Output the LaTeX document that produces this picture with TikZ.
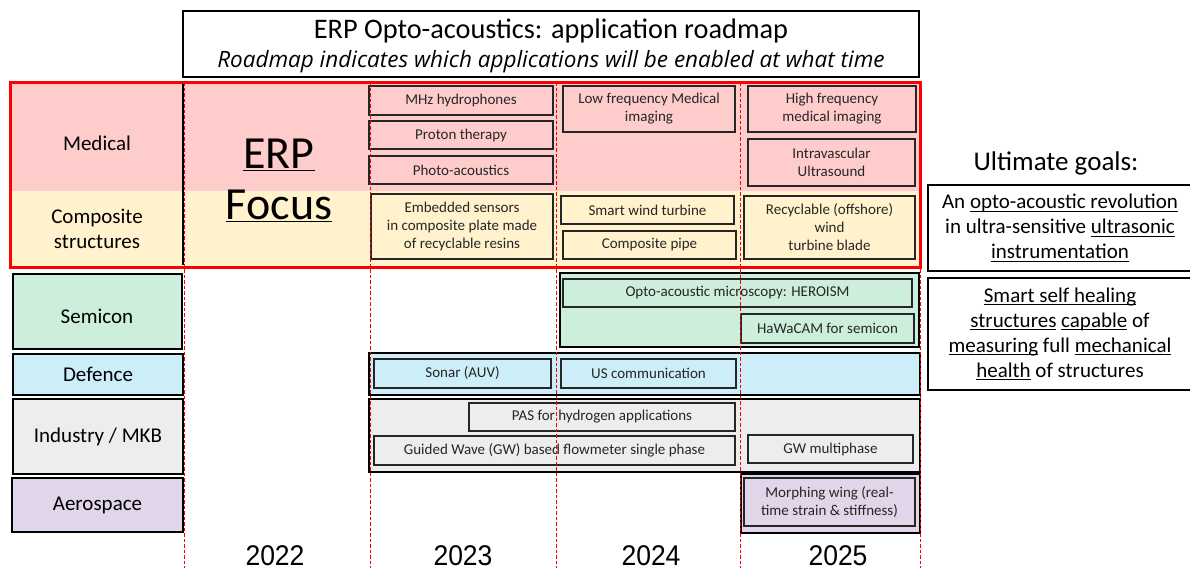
\documentclass[tikz,border=0pt]{standalone}
\usepackage{fontspec}
\setmainfont{Carlito}
\newfontfamily\subfont{Open Sans}
\newfontfamily\yearfont[FakeStretch=0.93]{Liberation Sans}
\definecolor{pk}{HTML}{FFCCCC}
\definecolor{yl}{HTML}{FFF2CC}
\definecolor{gr}{HTML}{CCEEDB}
\definecolor{bl}{HTML}{CCEEF9}
\definecolor{gy}{HTML}{EDEDED}
\definecolor{pu}{HTML}{E1D5E9}
\definecolor{tx}{HTML}{262626}
\newcommand\myul[1]{\leavevmode\setbox0\hbox{#1}\rlap{\rule[-3pt]{\wd0}{1pt}}\box0\relax}
\tikzset{
  ibox/.style={draw=black!85, line width=1.5pt, inner sep=0pt, align=center, text=tx,
    font=\fontsize{15}{18}\selectfont},
  gbox/.style={draw=black, line width=2pt, inner sep=0pt},
  lbox/.style={draw=black, line width=2pt, inner sep=0pt, align=center, text=black,
    font=\fontsize{21}{25}\selectfont},
  lbl/.style={align=center, font=\fontsize{21}{25}\selectfont},
  year/.style={inner sep=0pt, font=\yearfont\fontsize{28.5}{30}\selectfont},
  grid/.style={red, line width=1.1pt, dash pattern=on 3.5pt off 2pt},
  goal/.style={draw=black, line width=2pt, inner sep=0pt},
  goaltxt/.style={align=center, font=\fontsize{21}{25}\selectfont},
}
% #1 style, #2 name, #3 x1, #4 y1, #5 x2, #6 y2, #7 text
\newcommand\rbox[7]{%
  \pgfmathsetmacro\rbw{#5-#3}\pgfmathsetmacro\rbh{#6-#4}%
  \pgfmathsetmacro\rbx{(#3+#5)/2}\pgfmathsetmacro\rby{(#4+#6)/2}%
  \node[#1, minimum width=\rbw pt, minimum height=\rbh pt] (#2) at (\rbx,\rby) {#7};}
\begin{document}
\begin{tikzpicture}[x=1pt,y=-1pt]
\useasboundingbox (0,0) rectangle (1190,568);
% title
\rbox{goal}{titlebox}{183}{11}{919}{77}{}
\node[font=\fontsize{28.3}{30}\selectfont] (title) at (551,31) {ERP Opto-acoustics: application roadmap};
\node[font=\subfont\itshape\fontsize{22.5}{24}\selectfont] (subtitle) at (551,62) {Roadmap indicates which applications will be enabled at what time};
% focus bands
\fill[pk] (11,83) rectangle (919,191);
\fill[yl] (11,191) rectangle (919,266);
\draw[black, line width=1.5pt] (183,84) -- (183,265);
\node[lbl] (medical) at (97,143) {Medical};
\node[lbl] (composite) at (97,229) {Composite\\structures};
\node[font=\fontsize{46}{50}\selectfont] (erp) at (279,155) {\underline{ERP}};
\node[font=\fontsize{46}{50}\selectfont] (focus) at (279,206) {\underline{Focus}};
% medical boxes
\rbox{ibox, fill=pk}{mhz}{369}{86}{553}{115}{MHz hydrophones}
\rbox{ibox, fill=pk}{proton}{369}{121}{553}{149}{Proton therapy}
\rbox{ibox, fill=pk}{photo}{369}{156}{553}{184}{Photo-acoustics}
\rbox{ibox, fill=pk}{lowfreq}{563}{86}{735}{132}{Low frequency Medical\\imaging}
\rbox{ibox, fill=pk}{highfreq}{748}{86}{916}{132}{High frequency\\medical imaging}
\rbox{ibox, fill=pk}{intra}{748}{139}{915}{186}{Intravascular\\Ultrasound}
% composite boxes
\rbox{ibox, fill=yl}{embedded}{371}{194}{553}{259}{Embedded sensors\\in composite plate made\\of recyclable resins}
\rbox{ibox, fill=yl}{smartwind}{561}{196}{734}{224}{Smart wind turbine}
\rbox{ibox, fill=yl}{pipe}{563}{231}{736}{259}{Composite pipe}
\rbox{ibox, fill=yl}{recyc}{744}{196}{915}{259}{Recyclable (offshore)\\wind\\turbine blade}
\draw[red, line width=3pt] (10,82) rectangle (920,267);
% label boxes
\rbox{lbox, fill=gr}{semicon}{13}{274}{182}{349}{}
\node[lbl] (semicont) at (97,316) {Semicon};
\rbox{lbox, fill=bl}{defence}{13}{354}{183}{395}{Defence}
\rbox{lbox, fill=gy}{industry}{13}{399}{183}{474}{Industry / MKB}
\rbox{lbox, fill=pu}{aero}{12}{478}{183}{532}{Aerospace}
% group boxes
\rbox{gbox, fill=gr}{gsemi}{560}{273}{919}{347}{}
\rbox{gbox, fill=bl}{gdef}{369}{353}{920}{395}{}
\rbox{gbox, fill=gy}{gind}{369}{399}{920}{472}{}
\rbox{gbox, fill=pu}{gaero}{741}{474}{920}{533}{}
% inner boxes
\rbox{ibox, fill=gr}{heroism}{563}{279}{912}{307}{Opto-acoustic microscopy: HEROISM}
\rbox{ibox, fill=gr}{hawacam}{741}{314}{914}{343}{HaWaCAM for semicon}
\rbox{ibox, fill=bl}{sonar}{374}{359}{551}{388}{Sonar (AUV)}
\rbox{ibox, fill=bl}{uscomm}{561}{359}{736}{388}{US communication}
\rbox{ibox, fill=gy}{pas}{469}{403}{735}{431}{PAS for hydrogen applications}
\rbox{ibox, fill=gy}{gwsingle}{374}{436}{735}{465}{Guided Wave (GW) based flowmeter single phase}
\rbox{ibox, fill=gy}{gwmulti}{748}{435}{913}{463}{GW multiphase}
\rbox{ibox, fill=pu}{morph}{744}{478}{915}{526}{Morphing wing (real-\\time strain \& stiffness)}
% grid lines
\foreach \x in {184.5,370.5,556.5,740.5,920.5} \draw[grid] (\x,82) -- (\x,568);
% years
\node[year] (y2022) at (275,556) {2022};
\node[year] (y2023) at (463,556) {2023};
\node[year] (y2024) at (651,556) {2024};
\node[year] (y2025) at (838,556) {2025};
% goals
\node[font=\fontsize{27}{30}\selectfont] (ult) at (1056,163) {Ultimate goals:};
\rbox{goal}{goal1}{928}{185}{1194}{271}{}
\node[goaltxt] (goal1t) at (1060,228) {An \myul{opto-acoustic revolution}\\in ultra-sensitive \myul{ultrasonic}\\\myul{instrumentation}};
\rbox{goal}{goal2}{928}{278}{1194}{390}{}
\node[goaltxt] (goal2t) at (1060,334) {\myul{Smart self healing}\\\myul{structures} \myul{capable} of\\\myul{measuring} full \myul{mechanical}\\\myul{health} of structures};
\end{tikzpicture}
\end{document}
